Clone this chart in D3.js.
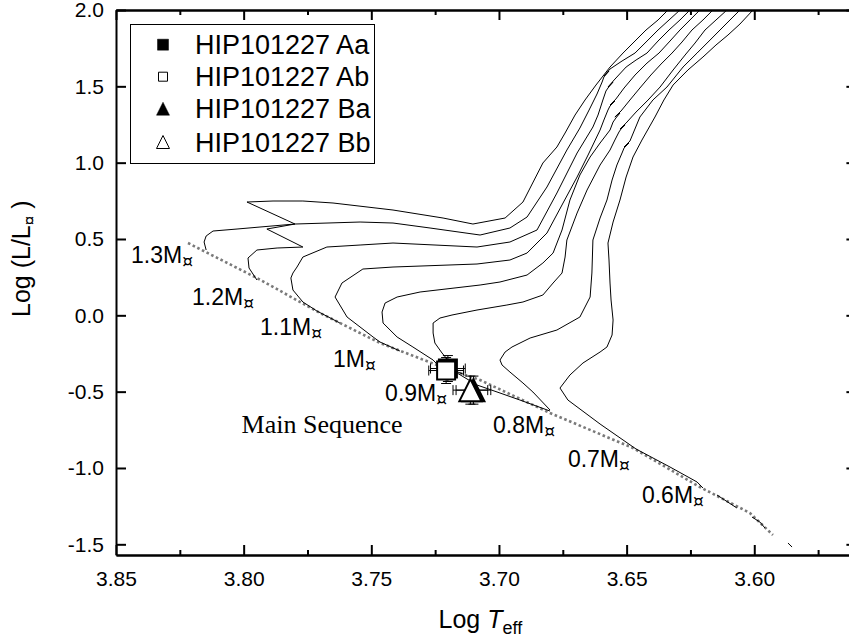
<!DOCTYPE html>
<html><head><meta charset="utf-8">
<script src="https://cdn.jsdelivr.net/npm/d3@7"></script>
<style>
html,body{margin:0;padding:0;background:#fff;}
svg{display:block;}
text{fill:#000;}
</style></head><body>
<svg id="chart" width="849" height="644"></svg>
<script>
// Evolutionary tracks: [log Teff, log L/Lsun]
const track13 = [[3.8147,0.4278],[3.8155,0.4802],[3.8147,0.5195],[3.8120,0.5522],[3.8026,0.5653],[3.7936,0.5784],[3.7799,0.5981],[3.7987,0.7422],[3.7885,0.7488],[3.7768,0.7488],[3.7650,0.7357],[3.7415,0.6898],[3.7219,0.6374],[3.7102,0.5981],[3.6976,0.6374],[3.6906,0.7422],[3.6828,0.9977],[3.6773,1.1025],[3.6741,1.1942],[3.6702,1.3121],[3.6663,1.4104],[3.6620,1.5086],[3.6565,1.6265],[3.6514,1.7182],[3.6471,1.7903],[3.6424,1.8689],[3.6377,1.9344],[3.6338,2.0000]];
const track12 = [[3.7948,0.2313],[3.7979,0.3099],[3.7983,0.3754],[3.7948,0.4278],[3.7869,0.4409],[3.7768,0.4474],[3.7909,0.5653],[3.7799,0.5981],[3.7544,0.6112],[3.7415,0.6046],[3.7270,0.5719],[3.7074,0.5260],[3.6957,0.5719],[3.6890,0.6439],[3.6812,0.8405],[3.6734,1.0828],[3.6683,1.2269],[3.6647,1.3448],[3.6616,1.4497],[3.6596,1.5283],[3.6589,1.5610],[3.6569,1.6003],[3.6589,1.5676],[3.6565,1.6134],[3.6518,1.6658],[3.6467,1.7182],[3.6420,1.7968],[3.6377,1.8689],[3.6334,1.9344],[3.6291,2.0000]];
const track11 = [[3.7623,-0.0504],[3.7713,0.0282],[3.7768,0.0872],[3.7807,0.1658],[3.7815,0.2444],[3.7807,0.2771],[3.7791,0.3164],[3.7768,0.3819],[3.7674,0.4474],[3.7544,0.4605],[3.7415,0.4736],[3.7086,0.4474],[3.6957,0.4802],[3.6851,0.5588],[3.6773,0.8012],[3.6694,1.0632],[3.6632,1.2335],[3.6612,1.3121],[3.6593,1.4104],[3.6581,1.4693],[3.6573,1.4890],[3.6553,1.5283],[3.6573,1.4955],[3.6549,1.5414],[3.6502,1.6265],[3.6463,1.6724],[3.6420,1.7182],[3.6377,1.7968],[3.6334,1.8689],[3.6291,1.9344],[3.6252,2.0000]];
const track10 = [[3.7388,-0.2338],[3.7466,-0.1749],[3.7493,-0.1421],[3.7595,-0.0111],[3.7642,0.1199],[3.7615,0.2116],[3.7533,0.3033],[3.7415,0.3164],[3.7086,0.3361],[3.6957,0.3623],[3.6890,0.4081],[3.6812,0.5391],[3.6749,0.7357],[3.6694,0.9060],[3.6651,1.0501],[3.6604,1.2138],[3.6589,1.2793],[3.6573,1.3448],[3.6565,1.3711],[3.6546,1.4038],[3.6565,1.3776],[3.6542,1.4169],[3.6510,1.4890],[3.6467,1.5741],[3.6420,1.6527],[3.6373,1.7182],[3.6330,1.7968],[3.6291,1.8689],[3.6252,1.9344],[3.6213,2.0000]];
const track09 = [[3.7141,-0.3845],[3.7243,-0.3190],[3.7258,-0.2928],[3.7337,-0.2076],[3.7399,-0.1421],[3.7454,-0.0504],[3.7458,0.0216],[3.7446,0.0806],[3.7399,0.1199],[3.7309,0.1527],[3.7074,0.1985],[3.6996,0.2182],[3.6890,0.2640],[3.6828,0.3426],[3.6788,0.4081],[3.6753,0.5588],[3.6722,0.7553],[3.6683,0.9191],[3.6643,1.0370],[3.6604,1.1287],[3.6565,1.2138],[3.6553,1.2662],[3.6542,1.2924],[3.6526,1.3252],[3.6546,1.2990],[3.6522,1.3383],[3.6487,1.4104],[3.6448,1.4890],[3.6405,1.5741],[3.6365,1.6462],[3.6322,1.7182],[3.6283,1.7903],[3.6244,1.8689],[3.6201,1.9344],[3.6162,2.0000]];
const track08 = [[3.6800,-0.6269],[3.6918,-0.5548],[3.6996,-0.5089],[3.7086,-0.4565],[3.7164,-0.3779],[3.7192,-0.3321],[3.7200,-0.2928],[3.7223,-0.2469],[3.7251,-0.1814],[3.7258,-0.1159],[3.7258,-0.0504],[3.7231,-0.0177],[3.7184,0.0020],[3.7086,0.0347],[3.6969,0.0675],[3.6906,0.0872],[3.6828,0.1330],[3.6788,0.2116],[3.6753,0.2771],[3.6741,0.3819],[3.6734,0.4933],[3.6694,0.6701],[3.6655,0.8208],[3.6604,0.9846],[3.6565,1.0828],[3.6546,1.1483],[3.6530,1.2007],[3.6522,1.2204],[3.6506,1.2466],[3.6526,1.2204],[3.6502,1.2597],[3.6463,1.3317],[3.6416,1.4104],[3.6369,1.4955],[3.6318,1.6069],[3.6271,1.7051],[3.6232,1.7837],[3.6193,1.8689],[3.6150,1.9344],[3.6107,2.0000]];
const track07 = [[3.6800,-0.6203],[3.6867,-0.5024],[3.6906,-0.4434],[3.6957,-0.3714],[3.6988,-0.3255],[3.6996,-0.2928],[3.6976,-0.2404],[3.6949,-0.2076],[3.6878,-0.1487],[3.6773,-0.0963],[3.6683,-0.0111],[3.6643,0.1199],[3.6636,0.2771],[3.6632,0.4933],[3.6604,0.6374],[3.6577,0.7553],[3.6557,0.8863],[3.6538,0.9846],[3.6518,1.0632],[3.6510,1.0959],[3.6491,1.1287],[3.6510,1.1025],[3.6487,1.1418],[3.6448,1.2990],[3.6397,1.4104],[3.6342,1.4955],[3.6279,1.6265],[3.6224,1.7182],[3.6173,1.8034],[3.6107,1.9147],[3.6056,2.0000]];
const track06 = [[3.6201,-1.1312],[3.6224,-1.0919],[3.6330,-0.9937],[3.6463,-0.8758],[3.6604,-0.7120],[3.6730,-0.5548],[3.6761,-0.4762],[3.6722,-0.3910],[3.6671,-0.3124],[3.6604,-0.2404],[3.6577,-0.2076],[3.6557,-0.1290],[3.6553,-0.0308],[3.6561,0.1003],[3.6565,0.2116],[3.6569,0.3623],[3.6573,0.4736],[3.6553,0.6112],[3.6526,0.7553],[3.6502,0.9060],[3.6475,1.0370],[3.6440,1.1483],[3.6389,1.2990],[3.6354,1.4104],[3.6318,1.5086],[3.6260,1.6069],[3.6201,1.6920],[3.6150,1.7706],[3.6103,1.8361],[3.6056,1.9082],[3.6005,2.0000]];
const stubA = [[3.6146,-1.1771],[3.6068,-1.2623]];
const stubB = [[3.6009,-1.3212],[3.5978,-1.3540],[3.5958,-1.3933]];
const stubC = [[3.5868,-1.4915],[3.5852,-1.5177]];
// Zero-age main sequence (dotted)
const zams = [[3.8218,0.4736],[3.7948,0.2444],[3.7701,0.0151],[3.7466,-0.1814],[3.7243,-0.3255],[3.7074,-0.4238],[3.6800,-0.6400],[3.6475,-0.8692],[3.6213,-1.1247],[3.6017,-1.2950],[3.5927,-1.4391]];

// Mass labels
const massLabels = ["1.3M","1.2M","1.1M","1M","0.9M","0.8M","0.7M","0.6M"];
const massLabelT = [3.8441,3.8202,3.7936,3.7650,3.7446,3.7023,3.6730,3.6440];
const massLabelL = [0.3426,0.0675,-0.1290,-0.3386,-0.5614,-0.7710,-0.9937,-1.2295];
const msLabel = "Main Sequence";
const msLabelT = 3.8008, msLabelL = -0.7729;

// Stars
const starNames = ["HIP101227 Aa","HIP101227 Ab","HIP101227 Ba","HIP101227 Bb"];
const starLogT = [3.7200,3.7207,3.7100,3.7112];
const starLogL = [-0.3485,-0.3616,-0.4900,-0.4900];
const starErrT = [0.0068,0.0068,0.0068,0.0068];
const starErrL = [0.085,0.085,0.092,0.092];

const xTickValues = [3.85,3.80,3.75,3.70,3.65,3.60];
const xMinorValues = [3.825,3.775,3.725,3.675,3.625,3.575];
const yTickValues = [-1.5,-1.0,-0.5,0.0,0.5,1.0,1.5,2.0];

const SANS = "'Liberation Sans',Arial,sans-serif";
const SERIF = "'Liberation Serif','Times New Roman',serif";
const svg = d3.select("#chart").style("font-family",SANS);
const x = d3.scaleLinear().domain([3.85,3.56]).range([116,856.4]);
const y = d3.scaleLinear().domain([-1.57,2.0]).range([555,10]);

svg.append("defs").append("clipPath").attr("id","plotclip")
  .append("rect").attr("x",116).attr("y",10).attr("width",740.4).attr("height",545);

const plot = svg.append("g").attr("clip-path","url(#plotclip)");
const line = d3.line().x(d=>x(d[0])).y(d=>y(d[1]));

plot.append("path").datum(zams).attr("d",line)
  .attr("fill","none").attr("stroke","#7a7a7a").attr("stroke-width",2.6)
  .attr("stroke-dasharray","2.6,2.6");

const tracks = [track13,track12,track11,track10,track09,track08,track07,track06,stubA,stubB,stubC];
plot.selectAll("path.track").data(tracks).enter().append("path")
  .attr("class","track").attr("d",line)
  .attr("fill","none").attr("stroke","#000").attr("stroke-width",1)
  .attr("stroke-linejoin","round");

// Axes
const axB = svg.append("g").attr("transform","translate(0,555)")
  .call(d3.axisBottom(x).tickValues(xTickValues).tickFormat(d3.format(".2f")).tickSizeInner(-10).tickSizeOuter(0).tickPadding(16));
const axBm = svg.append("g").attr("transform","translate(0,555)")
  .call(d3.axisBottom(x).tickValues(xMinorValues).tickFormat("").tickSizeInner(-5).tickSizeOuter(0));
const axT = svg.append("g").attr("transform","translate(0,10)")
  .call(d3.axisTop(x).tickValues(xTickValues).tickFormat("").tickSizeInner(-10).tickSizeOuter(0));
const axTm = svg.append("g").attr("transform","translate(0,10)")
  .call(d3.axisTop(x).tickValues(xMinorValues).tickFormat("").tickSizeInner(-5).tickSizeOuter(0));
const axL = svg.append("g").attr("transform","translate(116,0)")
  .call(d3.axisLeft(y).tickValues(yTickValues).tickFormat(d=>d3.format(".1f")(d).replace("\u2212","-")).tickSizeInner(-10).tickSizeOuter(0).tickPadding(12));
const axR = svg.append("g").attr("transform","translate(856.4,0)")
  .call(d3.axisRight(y).tickValues(yTickValues).tickFormat("").tickSizeInner(-10).tickSizeOuter(0));
[axB,axBm,axT,axTm,axL,axR].forEach(g=>{
  g.attr("font-family",null).attr("font-size",null);
  g.select(".domain").attr("stroke","#000").attr("stroke-width",2);
  g.selectAll(".tick line").attr("stroke","#000").attr("stroke-width",2);
  g.selectAll("text").style("font-size","21px").style("font-family",SANS).attr("fill","#000");
});

// Axis titles
const xt = svg.append("text").attr("x",438.5).attr("y",628).style("font-size","25px");
xt.append("tspan").text("Log ");
xt.append("tspan").style("font-style","italic").text("T");
xt.append("tspan").style("font-size","18px").attr("dy",6).text("eff");

const yt = svg.append("text").attr("transform","translate(30,317) rotate(-90)").style("font-size","25px");
yt.append("tspan").text("Log (L/L");
yt.append("tspan").style("font-size","17px").attr("dy",5).text("\u00a4");
yt.append("tspan").attr("dy",-5).text(" )");

// Mass labels
massLabels.forEach((m,i)=>{
  const t = svg.append("text").attr("x",x(massLabelT[i])).attr("y",y(massLabelL[i])).style("font-size","23px");
  t.append("tspan").text(m);
  t.append("tspan").style("font-size","17px").style("font-family","'DejaVu Sans',sans-serif").attr("dy",4).text("\u00a4");
});
svg.append("text").attr("x",x(msLabelT)).attr("y",y(msLabelL))
  .style("font-family",SERIF).style("font-size","26px").text(msLabel);

// Stars: error bars + symbols
const triBox = { draw(ctx,size){ const s=Math.sqrt(size); ctx.moveTo(0,-s/2); ctx.lineTo(s/2,s/2); ctx.lineTo(-s/2,s/2); ctx.closePath(); } };
const symTypes = [d3.symbolSquare,d3.symbolSquare,triBox,triBox];
const symSizes = [324,324,484,484];
const symFill = ["#000","#fff","#000","#fff"];
const cap = 5;
starNames.forEach((n,i)=>{
  const g = svg.append("g");
  const cx = x(starLogT[i]), cy = y(starLogL[i]);
  const x1 = x(starLogT[i]+starErrT[i]), x2 = x(starLogT[i]-starErrT[i]);
  const y1 = y(starLogL[i]+starErrL[i]), y2 = y(starLogL[i]-starErrL[i]);
  const eb = [[x1,cy,x2,cy],[x1,cy-cap,x1,cy+cap],[x2,cy-cap,x2,cy+cap],[cx,y1,cx,y2],[cx-cap,y1,cx+cap,y1],[cx-cap,y2,cx+cap,y2]];
  eb.forEach(s=>g.append("line").attr("x1",s[0]).attr("y1",s[1]).attr("x2",s[2]).attr("y2",s[3]).attr("stroke","#000").attr("stroke-width",1));
  g.append("path").attr("d",d3.symbol().type(symTypes[i]).size(symSizes[i])())
    .attr("transform",`translate(${cx},${cy})`)
    .attr("fill",symFill[i]).attr("stroke","#000").attr("stroke-width",2).attr("stroke-linejoin","miter");
});

// Legend
const leg = svg.append("g");
leg.append("rect").attr("x",130.5).attr("y",24.5).attr("width",244).attr("height",139)
  .attr("fill","#fff").attr("stroke","#000").attr("stroke-width",1);
const legSizes = [121,81,169,169];
const legRowY = [44.7,76.7,108.7,142];
starNames.forEach((n,i)=>{
  leg.append("path").attr("d",d3.symbol().type(symTypes[i]).size(legSizes[i])())
    .attr("transform",`translate(163,${legRowY[i]})`)
    .attr("fill",symFill[i]).attr("stroke","#000").attr("stroke-width",i%2?1:0.5);
  leg.append("text").attr("x",195).attr("y",legRowY[i]+9.5).style("font-size","27px").text(n);
});
</script>
</body></html>
